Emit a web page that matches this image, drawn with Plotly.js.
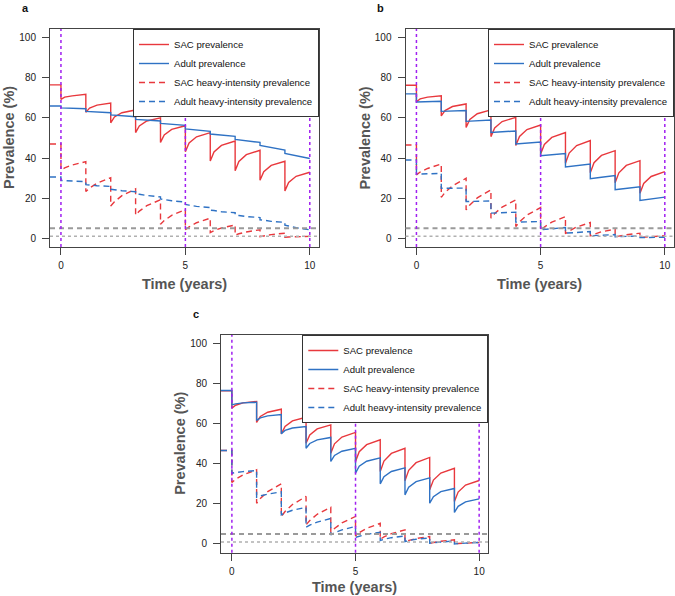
<!DOCTYPE html>
<html>
<head>
<meta charset="utf-8">
<script src="https://cdn.plot.ly/plotly-3.0.1.min.js"></script>
<style>html,body{margin:0;padding:0;background:#fff;}#chart{width:675px;height:596px;}</style>
</head>
<body>
<div id="chart"></div>
<script>
// ---- data ----
const time = [-0.44,0, 0,0.15,0.45,1, 1,1.15,1.45,2, 2,2.15,2.45,3, 3,3.15,3.45,4, 4,4.15,4.45,5,
  5,5.15,5.45,6, 6,6.15,6.45,7, 7,7.15,7.45,8, 8,8.15,8.45,9, 9,9.15,9.45,10];

const seriesNames = ["SAC prevalence", "Adult prevalence", "SAC heavy-intensity prevalence", "Adult heavy-intensity prevalence"];
const panelLabels = ["a", "b", "c"];
const xTickVals = [0, 5, 10];
const yTickVals = [0, 20, 40, 60, 80, 100];
const thresholds = [5, 1];
const treatmentMarks = [0, 5, 10];

// panel a
const sacA = [76.5,76.5, 69.3,70.4,71.0,71.8, 62.8,64.9,66.4,67.4, 57.6,60.5,62.6,64.0, 52.7,56.0,58.5,60.1, 47.8,51.5,54.3,56.1,
  43.2,47.5,50.6,52.7, 38.5,43.0,46.3,48.5, 33.7,38.3,41.7,43.9, 28.9,33.2,36.3,38.4, 23.6,27.8,30.9,32.9];
const adultA = [66.0,66.0, 65.0,64.9,64.8,64.6, 63.3,63.2,63.0,62.6, 61.5,61.4,61.1,60.6, 59.3,59.2,58.9,58.5, 57.3,57.1,56.8,56.3,
  54.5,54.3,54.0,53.3, 52.0,51.8,51.5,50.8, 49.3,49.1,48.7,47.8, 46.3,46.0,45.3,44.0, 42.3,41.9,41.1,39.8];
const sacHeavyA = [47.0,47.0, 34.0,35.1,36.5,38.2, 23.3,25.0,27.4,30.2, 16.1,18.2,21.2,24.6, 11.6,13.5,16.2,19.2, 7.0,8.8,11.4,14.3,
  4.2,5.6,7.7,10.0, 2.8,3.8,5.1,6.6, 1.5,2.2,3.1,4.2, 0.8,1.2,1.8,2.5, 0.5,0.6,0.7,0.9];
const adultHeavyA = [30.5,30.5, 28.8,28.7,28.4,28.2, 26.7,26.5,26.2,25.8, 24.4,24.2,23.7,23.2, 22.2,21.9,21.3,20.6, 19.6,19.3,18.7,18.0,
  16.8,16.5,15.9,15.3, 14.0,13.8,13.2,12.7, 11.5,11.3,10.8,10.3, 9.2,9.0,8.4,7.9, 6.5,6.1,5.2,4.2];

// panel b
const sacB = [76.3,76.3, 68.1,69.5,70.4,71.1, 61.0,63.7,65.7,67.0, 55.3,59.2,62.1,64.0, 50.7,55.0,58.2,60.3, 46.2,50.8,54.2,56.5,
  42.0,46.8,50.3,52.7, 37.4,42.5,46.2,48.7, 32.7,37.7,41.3,43.7, 27.7,32.6,36.3,38.7, 22.4,27.3,30.8,33.2];
const adultB = [72.0,72.0, 68.0,68.0,68.1,68.3, 63.3,63.4,63.5,63.7, 58.3,58.4,58.6,59.0, 52.8,52.9,53.1,53.5, 47.0,47.2,47.5,48.0,
  41.2,41.4,41.7,42.3, 35.5,35.7,36.2,37.0, 29.7,30.0,30.4,31.3, 24.2,24.4,24.9,25.7, 18.8,19.1,19.6,20.5];
const sacHeavyB = [46.5,46.5, 31.6,33.0,34.8,37.0, 20.4,22.8,26.1,29.9, 14.1,16.6,20.1,24.1, 10.0,12.3,15.5,19.1, 5.8,8.2,11.5,15.3,
  3.8,5.6,8.0,10.8, 2.2,3.6,5.6,7.8, 1.2,2.0,3.2,4.5, 0.5,1.0,1.7,2.5, 0.3,0.5,0.8,1.2];
const adultHeavyB = [39.0,39.0, 32.0,32.0,32.1,32.3, 24.9,24.9,24.9,25.0, 18.3,18.3,18.4,18.6, 12.5,12.6,12.7,13.0, 8.0,8.0,8.1,8.3,
  4.2,4.4,4.7,5.3, 2.5,2.6,2.9,3.3, 1.2,1.3,1.5,1.8, 0.7,0.8,0.9,1.1, 0.3,0.3,0.4,0.5];

// panel c
const sacC = [76.5,76.5, 67.8,69.3,70.5,71.2, 60.7,63.7,65.8,67.3, 55.0,58.7,61.5,63.3, 50.3,54.4,57.5,59.5, 45.3,50.0,53.4,55.7,
  41.2,46.1,49.6,52.0, 36.2,41.4,45.2,47.8, 31.5,36.8,40.6,43.2, 27.0,31.9,35.4,37.8, 21.2,25.9,29.4,31.7];
const adultC = [76.7,76.7, 69.5,70.0,70.5,70.8, 61.7,63.0,64.0,64.7, 55.0,56.7,57.9,58.7, 47.8,50.2,52.0,53.2, 41.2,44.2,46.3,47.8,
  35.3,38.8,41.3,43.0, 30.0,33.6,36.2,38.0, 24.5,28.3,31.1,33.0, 20.3,23.6,26.1,27.7, 15.7,18.8,21.0,22.5];
const sacHeavyC = [46.7,46.7, 30.7,32.3,34.5,37.0, 20.3,22.7,26.1,30.0, 13.7,16.2,19.7,23.7, 9.5,11.7,14.8,18.3, 5.7,7.7,10.5,13.7,
  4.0,5.6,7.8,10.3, 2.3,3.5,5.1,7.0, 1.2,1.8,2.7,3.7, 0.3,0.7,1.3,2.0, 0.0,0.2,0.4,0.7];
const adultHeavyC = [46.7,46.7, 35.3,35.7,36.1,36.7, 23.3,24.0,24.9,26.0, 14.5,15.5,16.8,18.3, 8.3,9.4,10.9,12.7, 4.5,5.6,7.0,8.7,
  3.3,3.9,4.8,5.8, 1.7,2.3,3.1,4.0, 1.2,1.7,2.3,3.0, 0.3,0.6,1.0,1.5, 0.0,0.2,0.4,0.7];

const panelSeries = [
  [sacA, adultA, sacHeavyA, adultHeavyA],
  [sacB, adultB, sacHeavyB, adultHeavyB],
  [sacC, adultC, sacHeavyC, adultHeavyC]
];

// ---- styling / layout ----
const W = 675, H = 596;
const RED = "#e8383d", BLUE = "#2f72c4", PURPLE = "#a020f0";
const FONT = "Liberation Sans, Arial, sans-serif";
const lineStyles = [
  {color: RED, width: 1.4, dash: "solid"},
  {color: BLUE, width: 1.4, dash: "solid"},
  {color: RED, width: 1.4, dash: "6px,4px"},
  {color: BLUE, width: 1.4, dash: "6px,4px"}
];
// plot boxes in pixels: [left, right, top, bottom]
const boxes = [[50, 319, 29, 247], [405.5, 674, 29, 247], [221, 488.3, 335, 552.7]];
const xTitleOffset = [37, 37, 34];

const px = v => v / W;
const py = v => 1 - v / H;

const traces = [];
const layout = {
  width: W, height: H,
  margin: {l: 0, r: 0, t: 0, b: 0},
  paper_bgcolor: "#fff", plot_bgcolor: "#fff",
  font: {family: FONT, color: "#222", size: 10},
  shapes: [], annotations: []
};

panelSeries.forEach((series, p) => {
  const sfx = p === 0 ? "" : String(p + 1);
  const legId = "legend" + sfx;
  series.forEach((vals, i) => {
    traces.push({
      type: "scatter", mode: "lines",
      x: time, y: vals,
      name: seriesNames[i],
      line: lineStyles[i],
      xaxis: "x" + sfx, yaxis: "y" + sfx,
      legend: legId,
      hoverinfo: "skip"
    });
  });
  const b = boxes[p];
  const axBase = {
    showgrid: false, zeroline: false,
    showline: true, mirror: true, linecolor: "#444", linewidth: 1,
    ticks: "outside", ticklen: 7, tickcolor: "#444", tickwidth: 1,
    tickfont: {family: FONT, size: 10, color: "#222"},
    fixedrange: true
  };
  layout["xaxis" + sfx] = Object.assign({}, axBase, {
    domain: [px(b[0]), px(b[1])], anchor: "y" + sfx,
    range: [-0.44, 10.37], tickmode: "array", tickvals: xTickVals,
    ticklabelstandoff: 2
  });
  layout["yaxis" + sfx] = Object.assign({}, axBase, {
    domain: [py(b[3]), py(b[2])], anchor: "x" + sfx,
    range: [-4.4, 104.4], tickmode: "array", tickvals: yTickVals,
    ticklabelstandoff: 4
  });
  layout[legId] = {
    x: px(b[1]), xanchor: "right",
    y: py(b[2]), yanchor: "top",
    bordercolor: "#333", borderwidth: 1, bgcolor: "#fff",
    font: {family: FONT, size: 9.6, color: "#111"},
    tracegroupgap: 0, itemwidth: 30
  };
  // threshold lines
  layout.shapes.push({type: "line", xref: "x" + sfx + " domain", yref: "y" + sfx,
    x0: 0, x1: 1, y0: thresholds[0], y1: thresholds[0],
    line: {color: "#9a9a9a", width: 2, dash: "5px,4px"}});
  layout.shapes.push({type: "line", xref: "x" + sfx + " domain", yref: "y" + sfx,
    x0: 0, x1: 1, y0: thresholds[1], y1: thresholds[1],
    line: {color: "#b0b0b0", width: 1.5, dash: "dot"}});
  treatmentMarks.forEach(t => {
    layout.shapes.push({type: "line", xref: "x" + sfx, yref: "y" + sfx + " domain",
      x0: t, x1: t, y0: 0, y1: 1,
      line: {color: PURPLE, width: 1.5, dash: "dot"}});
  });
  // axis titles and panel label
  layout.annotations.push({text: "<b>Time (years)</b>", xref: "paper", yref: "paper",
    x: px((b[0] + b[1]) / 2), y: py(b[3] + xTitleOffset[p]), xanchor: "center", yanchor: "middle",
    showarrow: false, borderpad: 0, font: {family: FONT, size: 14.5, color: "#555"}});
  layout.annotations.push({text: "<b>Prevalence (%)</b>", xref: "paper", yref: "paper",
    x: px(b[0] - 41), y: py((b[2] + b[3]) / 2), xanchor: "center", yanchor: "middle",
    textangle: -90, showarrow: false, borderpad: 0, font: {family: FONT, size: 14.5, color: "#555"}});
  layout.annotations.push({text: "<b>" + panelLabels[p] + "</b>", xref: "paper", yref: "paper",
    x: px(b[0] - 25), y: py(b[2] - 21), xanchor: "center", yanchor: "middle",
    showarrow: false, font: {family: FONT, size: 11, color: "#111"}});
});

Plotly.newPlot("chart", traces, layout, {staticPlot: true, displayModeBar: false});
</script>
</body>
</html>
